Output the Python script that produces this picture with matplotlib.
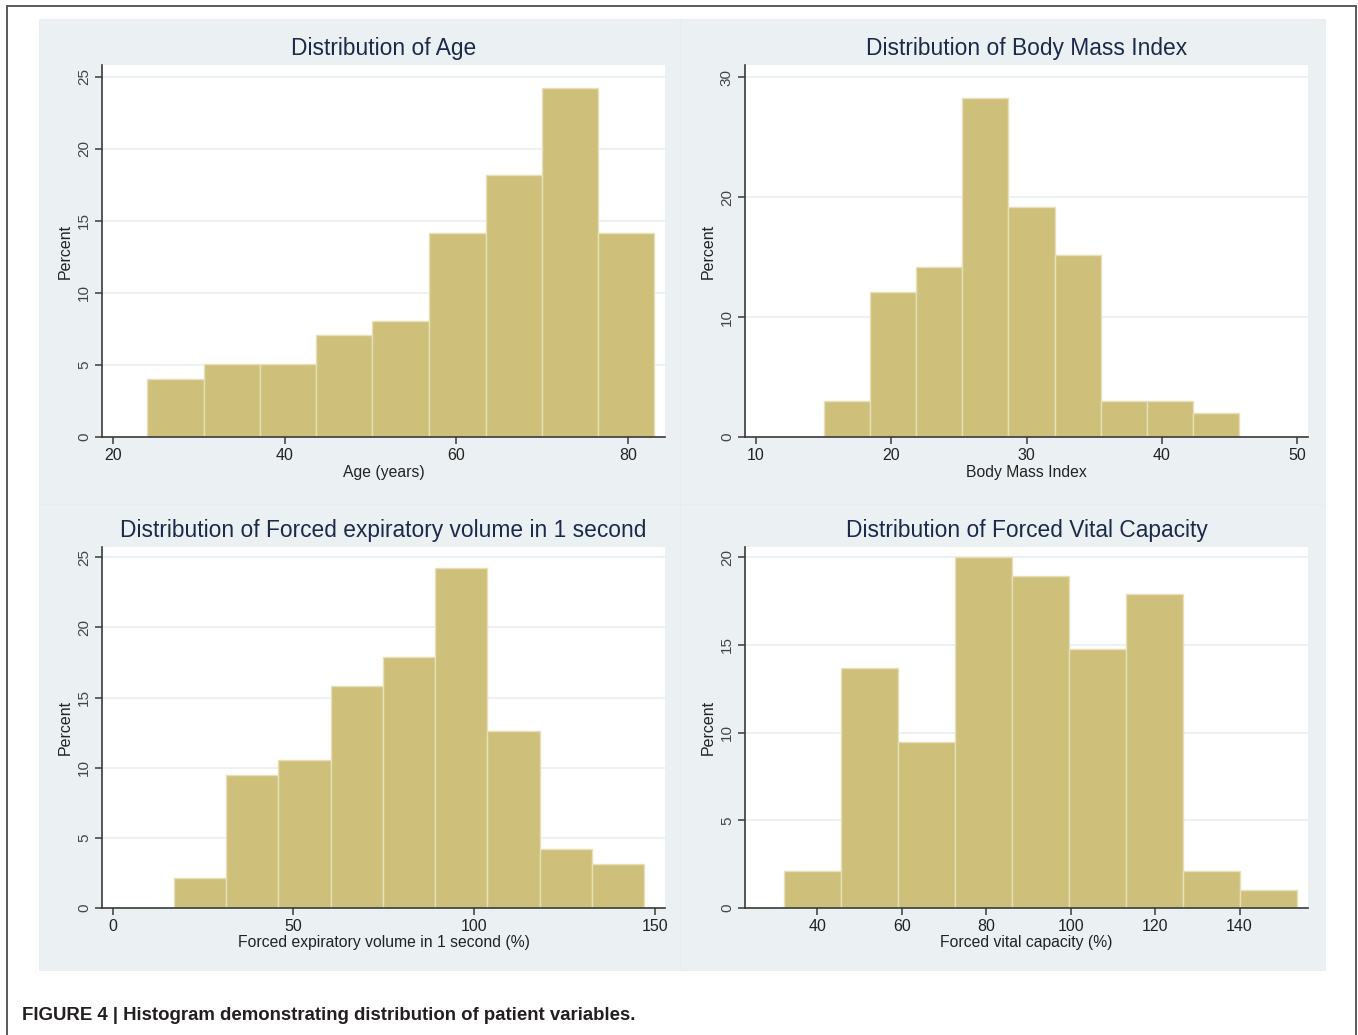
#!/usr/bin/env python
import numpy as np
import matplotlib
matplotlib.use("Agg")
import matplotlib.pyplot as plt
from matplotlib.patches import Rectangle
from matplotlib.lines import Line2D

# Bin edges and percent per bin
age_edges = [24.0, 30.6, 37.1, 43.7, 50.2, 56.8, 63.4, 69.9, 76.5, 83.0]
age_pct = [4.04, 5.05, 5.05, 7.07, 8.08, 14.14, 18.18, 24.24, 14.14]

bmi_edges = [15.0, 18.4, 21.8, 25.2, 28.6, 32.1, 35.5, 38.9, 42.3, 45.7]
bmi_pct = [3.03, 12.12, 14.14, 28.28, 19.19, 15.15, 3.03, 3.03, 2.02]

fev_edges = [16.9, 31.4, 45.8, 60.3, 74.7, 89.2, 103.6, 118.1, 132.5, 147.0]
fev_pct = [2.11, 9.47, 10.53, 15.79, 17.89, 24.21, 12.63, 4.21, 3.16]

fvc_edges = [32.1, 45.6, 59.1, 72.6, 86.1, 99.7, 113.2, 126.7, 140.2, 153.7]
fvc_pct = [2.11, 13.68, 9.47, 20.0, 18.95, 14.74, 17.89, 2.11, 1.05]

titles = ["Distribution of Age",
          "Distribution of Body Mass Index",
          "Distribution of Forced expiratory volume in 1 second",
          "Distribution of Forced Vital Capacity"]
xlabels = ["Age (years)", "Body Mass Index",
           "Forced expiratory volume in 1 second (%)",
           "Forced vital capacity (%)"]
xticks = [[20, 40, 60, 80], [10, 20, 30, 40, 50],
          [0, 50, 100, 150], [40, 60, 80, 100, 120, 140]]
yticks = [[0, 5, 10, 15, 20, 25], [0, 10, 20, 30],
          [0, 5, 10, 15, 20, 25], [0, 5, 10, 15, 20]]
caption = "FIGURE 4 | Histogram demonstrating distribution of patient variables."

W, H = 1358, 1035
BG = "#EBF1F3"
BAR = "#CEC07B"
BAR_EDGE = "#E6E0B8"
NAVY = "#1C2A4A"

plt.rcParams["font.family"] = ["Liberation Sans", "DejaVu Sans"]


def fx(px):
	return px / W


def fy(py):
	return 1 - py / H


if __name__ == "__main__":

	fig = plt.figure(figsize=(W / 100, H / 100), dpi=100)
	fig.patch.set_facecolor("white")

	# Stata style grey graph regions, one per panel
	for (x0, x1) in [(39, 680), (680, 1325)]:
		for (y0, y1) in [(19, 504), (504, 970)]:
			fig.add_artist(Rectangle((fx(x0), fy(y1)), fx(x1 - x0), (y1 - y0) / H,
			                         transform=fig.transFigure, facecolor=BG,
			                         edgecolor="#E6EDEF", lw=0.6, zorder=0))

	# Outer frame of the figure
	for xs, ys in [([7, 7], [1040, 6]), ([7, 1356], [6, 6]), ([1356, 1356], [6, 1040])]:
		fig.add_artist(Line2D([fx(x) for x in xs], [fy(y) for y in ys],
		                      transform=fig.transFigure, color="#5a5a5a", lw=1.4))

	# Plot region boxes (left, right, top, bottom) in pixels and axis limits
	boxes = [(102, 665, 65, 437), (745, 1308, 65, 437),
	         (102, 665, 547, 908), (745, 1308, 547, 908)]
	xlims = [(18.75, 84.27), (9.19, 50.8), (-2.96, 152.8), (22.9, 156.2)]
	ylims = [25.83, 31.0, 25.73, 20.58]

	edges = [age_edges, bmi_edges, fev_edges, fvc_edges]
	pcts = [age_pct, bmi_pct, fev_pct, fvc_pct]

	for i in range(4):
		l, r, t, b = boxes[i]
		ax = fig.add_axes([fx(l), fy(b), (r - l) / W, (b - t) / H])
		ax.set_facecolor("white")

		e = np.array(edges[i])
		ax.bar(e[:-1], pcts[i], width=np.diff(e), align="edge",
		       color=BAR, edgecolor=BAR_EDGE, linewidth=1.0, zorder=2)

		ax.set_xlim(*xlims[i])
		ax.set_ylim(0, ylims[i])
		ax.set_xticks(xticks[i])
		ax.set_yticks(yticks[i])

		ax.grid(axis="y", color=BG, lw=1.3, zorder=0)
		ax.set_axisbelow(True)

		for s in ["top", "right"]:
			ax.spines[s].set_visible(False)
		for s in ["left", "bottom"]:
			ax.spines[s].set_color("#3a3a3a")
			ax.spines[s].set_linewidth(1.2)

		ax.tick_params(axis="x", direction="out", length=5, width=1.1,
		               color="#3a3a3a", labelsize=11.5, labelcolor="#222222", pad=3)
		ax.tick_params(axis="y", direction="out", length=5, width=1.1,
		               color="#3a3a3a", labelsize=11, labelcolor="#444444",
		               labelrotation=90, pad=3)
		for lab in ax.get_yticklabels():
			lab.set_va("center")

		cx = (l + r) / 2
		fig.text(fx(cx), fy(t - 16), titles[i], ha="center", va="center",
		         fontsize=16.4, color=NAVY)
		fig.text(fx(cx), fy(b + 35), xlabels[i], ha="center", va="center",
		         fontsize=11.3, color="#222222")
		fig.text(fx(l - 37), fy((t + b) / 2), "Percent", ha="center", va="center",
		         rotation=90, fontsize=11.5, color="#222222")

	# Figure caption
	fig.text(fx(22), fy(1016), caption, ha="left", va="center",
	         fontsize=13.4, fontweight="bold", color="#231F20")

	fig.savefig("out.png", dpi=100, facecolor="white")
